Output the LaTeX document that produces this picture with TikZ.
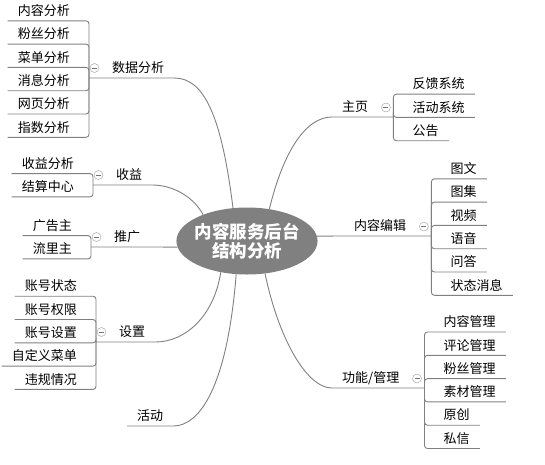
\documentclass[tikz,border=0pt]{standalone}
\usepackage{fontspec}
\setmainfont{Noto Sans CJK SC}
\usetikzlibrary{shapes.geometric,positioning}

\begin{document}
\begin{tikzpicture}[
  x=1pt, y=1pt,
  node distance=6.3pt and 0pt,
  root/.style={ellipse, fill=black!50, text=white, align=center,
               font=\fontsize{17.5}{19}\selectfont\bfseries,
               inner xsep=-2.6pt, inner ysep=0pt,
               minimum width=141pt, minimum height=67pt},
  topic/.style={font=\fontsize{13}{15}\selectfont, inner xsep=10pt, inner ysep=0pt,
                text height=11.5pt, text depth=5.1pt},
  link/.style={draw=black!50, line width=0.9pt},
  bracket/.style={link, rounded corners=3pt},
  fold/.style={circle, draw=black!40, inner sep=0pt, minimum size=9pt,
               path picture={\draw[black!55] ([xshift=-2.5pt]path picture bounding box.center)
                 -- ([xshift=2.5pt]path picture bounding box.center);}}
]
\useasboundingbox (0,0) rectangle (545,-464);

% central topic
\node[root] (root) at (247,-241) {内容服务后台\\结构分析};

% main topics on the left
\node[topic, anchor=south west] (sj) at (102,-78) {数据分析};
\node[topic, anchor=south west] (sy) at (106,-185) {收益};
\node[topic, anchor=south west] (tg) at (104,-247) {推广};
\node[topic, anchor=south west] (sz) at (109,-342) {设置};
\node[topic, anchor=south west] (hd) at (127,-426) {活动};
\coordinate (sj-hub) at ([xshift=-13pt]sj.south west);
\coordinate (sy-hub) at ([xshift=-13pt]sy.south west);
\coordinate (tg-hub) at ([xshift=-13pt]tg.south west);
\coordinate (sz-hub) at ([xshift=-13pt]sz.south west);

% main topics on the right
\node[topic, anchor=south west] (zy) at (332,-117) {主页};
\node[topic, anchor=south west] (nb) at (344,-236) {内容编辑};
\node[topic, anchor=south west] (gn) at (332,-388) {功能/管理};
\coordinate (zy-hub) at ([xshift=15pt]zy.south east);
\coordinate (nb-hub) at ([xshift=15pt]nb.south east);
\coordinate (gn-hub) at ([xshift=15pt]gn.south east);

% collapse marks
\node[fold] (sj-fold) at ([xshift=5.5pt, yshift=10pt]sj-hub) {};
\node[fold] (sy-fold) at ([xshift=5.5pt, yshift=10pt]sy-hub) {};
\node[fold] (tg-fold) at ([xshift=5.5pt, yshift=10pt]tg-hub) {};
\node[fold] (sz-fold) at ([xshift=5.5pt, yshift=10pt]sz-hub) {};
\node[fold] (zy-fold) at ([xshift=-7.5pt, yshift=9.5pt]zy-hub) {};
\node[fold] (nb-fold) at ([xshift=-7.5pt, yshift=9.5pt]nb-hub) {};
\node[fold] (gn-fold) at ([xshift=-7.5pt, yshift=9.5pt]gn-hub) {};

% subtopics: 数据分析
\node[topic, anchor=south east] (nrfx) at ([xshift=-9pt, yshift=57.2pt]sj-hub) {内容分析};
\node[topic, below left=of nrfx.south east] (fsfx) {粉丝分析};
\node[topic, below left=of fsfx.south east] (cdfx) {菜单分析};
\node[topic, below left=of cdfx.south east] (xxfx) {消息分析};
\node[topic, below left=of xxfx.south east] (wyfx) {网页分析};
\node[topic, below left=of wyfx.south east] (zsfx) {指数分析};

% subtopics: 收益
\node[topic, anchor=south east] (syfx) at ([xshift=-9pt, yshift=11.4pt]sy-hub) {收益分析};
\node[topic, below left=of syfx.south east] (jszx) {结算中心};

% subtopics: 推广
\node[topic, anchor=south east] (ggz) at ([xshift=-9pt, yshift=11.4pt]tg-hub) {广告主};
\node[topic, below left=of ggz.south east] (llz) {流里主};

% subtopics: 设置
\node[topic, anchor=south east] (zhzt) at ([xshift=-9pt, yshift=45.8pt]sz-hub) {账号状态};
\node[topic, below left=of zhzt.south east] (zhqx) {账号权限};
\node[topic, below left=of zhqx.south east] (zhsz) {账号设置};
\node[topic, below left=of zhsz.south east] (zdycd) {自定义菜单};
\node[topic, below left=of zdycd.south east] (wgqk) {违规情况};

% subtopics: 主页
\node[topic, anchor=south west] (fkxt) at ([xshift=9pt, yshift=22.9pt]zy-hub) {反馈系统};
\node[topic, below right=of fkxt.south west] (hdxt) {活动系统};
\node[topic, below right=of hdxt.south west] (gg) {公告};

% subtopics: 内容编辑
\node[topic, anchor=south west] (tw) at ([xshift=9pt, yshift=57.2pt]nb-hub) {图文};
\node[topic, below right=of tw.south west] (tj) {图集};
\node[topic, below right=of tj.south west] (sp) {视频};
\node[topic, below right=of sp.south west] (yy) {语音};
\node[topic, below right=of yy.south west] (wd) {问答};
\node[topic, below right=of wd.south west] (ztxx) {状态消息};

% subtopics: 功能/管理
\node[topic, anchor=south west] (nrgl) at ([xshift=9pt, yshift=56pt]gn-hub) {内容管理};
\node[topic, below right=of nrgl.south west] (plgl) {评论管理};
\node[topic, below right=of plgl.south west] (fsgl) {粉丝管理};
\node[topic, below right=of fsgl.south west] (scgl) {素材管理};
\node[topic, below right=of scgl.south west] (yc) {原创};
\node[topic, below right=of yc.south west] (sx) {私信};

% branches from the centre
\draw[link] (root.113) .. controls +(-11,88) and +(31,0) .. (sj.south east) -- (sj-hub);
\draw[link] (root.149) .. controls +(-11,20) and +(18,0) .. (sy.south east) -- (sy-hub);
\draw[link] (root.185) -- (tg.south east) -- (tg-hub);
\draw[link] (root.230) .. controls +(-7,-45) and +(29,0) .. (sz.south east) -- (sz-hub);
\draw[link] (root.252) .. controls +(-9,-113) and +(26,0) .. (hd.south east) -- (hd.south west);
\draw[link] (root.55) .. controls +(14,58) and +(-26,0) .. (zy.south west) -- (zy-hub);
\draw[link] (root.4) -- (nb.south west) -- (nb-hub);
\draw[link] (root.299) .. controls +(13,-63) and +(-26,0) .. (gn.south west) -- (gn-hub);

% brackets to the subtopics
\draw[bracket] (sj-hub) |- (nrfx.south west);
\draw[bracket] (sj-hub) |- (fsfx.south west);
\draw[bracket] (sj-hub) |- (cdfx.south west);
\draw[bracket] (sj-hub) |- (xxfx.south west);
\draw[bracket] (sj-hub) |- (wyfx.south west);
\draw[bracket] (sj-hub) |- (zsfx.south west);
\draw[bracket] (sy-hub) |- (syfx.south west);
\draw[bracket] (sy-hub) |- (jszx.south west);
\draw[bracket] (tg-hub) |- (ggz.south west);
\draw[bracket] (tg-hub) |- (llz.south west);
\draw[bracket] (sz-hub) |- (zhzt.south west);
\draw[bracket] (sz-hub) |- (zhqx.south west);
\draw[bracket] (sz-hub) |- (zhsz.south west);
\draw[bracket] (sz-hub) |- (zdycd.south west);
\draw[bracket] (sz-hub) |- (wgqk.south west);
\draw[bracket] (zy-hub) |- (fkxt.south east);
\draw[bracket] (zy-hub) |- (hdxt.south east);
\draw[bracket] (zy-hub) |- (gg.south east);
\draw[bracket] (nb-hub) |- (tw.south east);
\draw[bracket] (nb-hub) |- (tj.south east);
\draw[bracket] (nb-hub) |- (sp.south east);
\draw[bracket] (nb-hub) |- (yy.south east);
\draw[bracket] (nb-hub) |- (wd.south east);
\draw[bracket] (nb-hub) |- (ztxx.south east);
\draw[bracket] (gn-hub) |- (nrgl.south east);
\draw[bracket] (gn-hub) |- (plgl.south east);
\draw[bracket] (gn-hub) |- (fsgl.south east);
\draw[bracket] (gn-hub) |- (scgl.south east);
\draw[bracket] (gn-hub) |- (yc.south east);
\draw[bracket] (gn-hub) |- (sx.south east);
\end{tikzpicture}
\end{document}
